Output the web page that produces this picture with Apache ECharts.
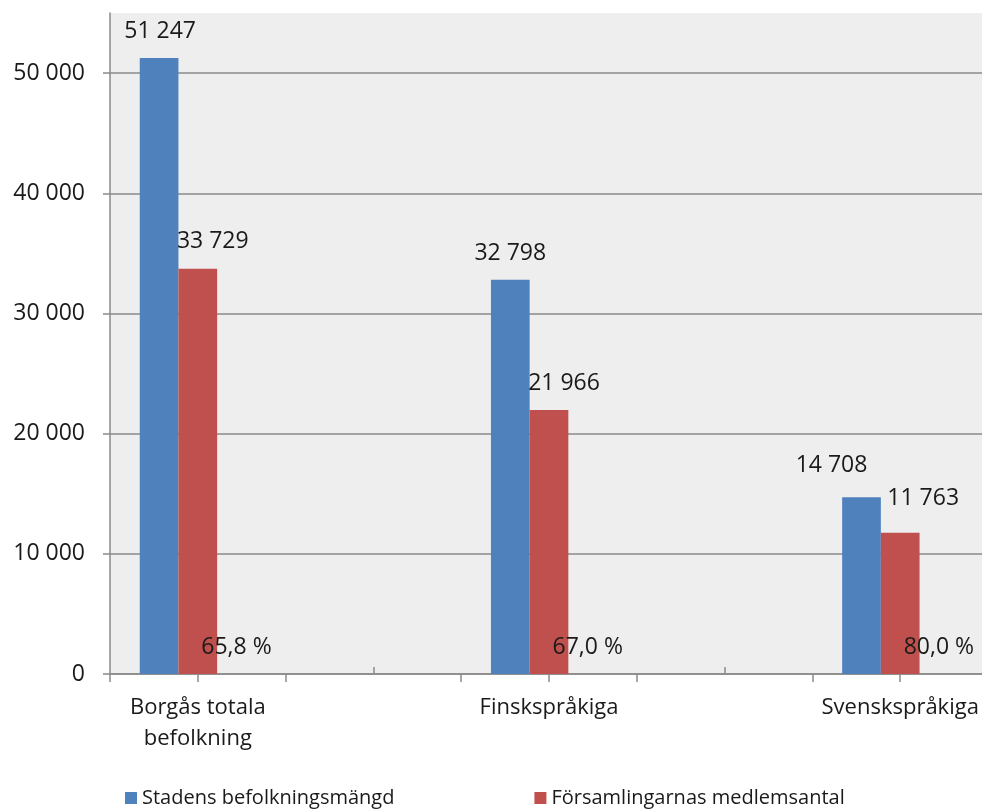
<!DOCTYPE html>
<html>
<head>
<meta charset="utf-8">
<script src="https://cdn.jsdelivr.net/npm/echarts@6/dist/echarts.min.js"></script>
<style>
  html, body { margin: 0; padding: 0; background: #fff; overflow: hidden; }
  #chart { width: 990px; height: 809px; }
</style>
</head>
<body>
<div id="chart"></div>
<script>
// kategorier (tomma platser ger samma avstånd som i originalet)
const categories = ['Borgås totala\nbefolkning', '', 'Finskspråkiga', '', 'Svenskspråkiga'];
const seriesNames = ['Stadens befolkningsmängd', 'Församlingarnas medlemsantal'];
const befolkning = [51247, null, 32798, null, 14708];
const medlemmar = [33729, null, 21966, null, 11763];
const andelar = ['65,8 %', '', '67,0 %', '', '80,0 %'];
const yTicks = [0, 10000, 20000, 30000, 40000, 50000];

// etiketternas förskjutning (flyttade för hand i originalet)
const blueOffsets = [[1, 0], null, [0, 0], null, [-30, -5]];
const redOffsets = [[15, -1], null, [15, 0], null, [23, -8]];

const FONT = 'Open Sans';
const TEXT = '#1a1a1a';
const GRID_GREY = '#8a8a8a';

const fmt = v => String(v).replace(/\B(?=(\d{3})+(?!\d))/g, ' ');

// diagrammet är lite bredare än fönstret, axeln fortsätter utanför bilden
const chart = echarts.init(document.getElementById('chart'), null, { renderer: 'canvas' });

const withOffsets = (values, offsets) => values.map((v, i) => {
  if (v == null) return '-';
  return { value: v, label: { offset: offsets[i] || [0, 0] } };
});

const labelBase = {
  show: true,
  position: 'top',
  distance: 15,
  fontFamily: FONT,
  fontSize: 23,
  color: TEXT
};

const tickAxis = (extra) => Object.assign({
  type: 'category',
  data: categories,
  position: 'bottom',
  axisLine: { show: false },
  axisLabel: { show: false },
  splitLine: { show: false }
}, extra);

const option = {
  animation: false,
  backgroundColor: '#ffffff',
  grid: {
    left: 110,
    right: 2,
    top: 13,
    bottom: 135,
    show: true,
    backgroundColor: '#eeeeee',
    borderWidth: 0
  },
  legend: {
    data: seriesNames,
    left: 120,
    top: 783,
    icon: 'rect',
    itemWidth: 12,
    itemHeight: 12,
    itemGap: 140,
    textStyle: { fontFamily: FONT, fontSize: 20, color: TEXT }
  },
  xAxis: [
    {
      type: 'category',
      data: categories,
      axisLine: { lineStyle: { color: GRID_GREY, width: 1.5 } },
      axisTick: { show: true, interval: 0, length: 8, lineStyle: { color: GRID_GREY, width: 1.5 } },
      axisLabel: {
        interval: 0,
        margin: 18,
        fontFamily: FONT,
        fontSize: 22,
        lineHeight: 31,
        color: TEXT
      }
    },
    tickAxis({
      axisTick: {
        show: true, alignWithLabel: true, length: 8,
        interval: i => i % 2 === 0,
        lineStyle: { color: GRID_GREY, width: 1.5 }
      }
    }),
    tickAxis({
      axisTick: {
        show: true, alignWithLabel: true, inside: true, length: 7,
        interval: i => i % 2 === 1,
        lineStyle: { color: GRID_GREY, width: 1.5 }
      }
    })
  ],
  yAxis: {
    type: 'value',
    min: yTicks[0],
    max: 55000,
    interval: yTicks[1] - yTicks[0],
    axisLine: { show: true, lineStyle: { color: GRID_GREY, width: 1.5 } },
    axisTick: { show: true, length: 7, customValues: yTicks, lineStyle: { color: GRID_GREY, width: 1.5 } },
    axisLabel: {
      margin: 25,
      fontFamily: FONT,
      fontSize: 23,
      color: TEXT,
      customValues: yTicks,
      formatter: v => fmt(v)
    },
    splitLine: {
      show: true,
      lineStyle: {
        color: yTicks.map(() => GRID_GREY).concat(['rgba(0,0,0,0)']),
        width: 1.5
      }
    }
  },
  series: [
    {
      name: seriesNames[0],
      type: 'bar',
      barWidth: 38.7,
      barGap: '0%',
      data: withOffsets(befolkning, blueOffsets),
      itemStyle: { color: '#4f81bd' },
      label: Object.assign({}, labelBase, { formatter: p => fmt(p.value) })
    },
    {
      name: seriesNames[1],
      type: 'bar',
      barWidth: 38.7,
      barGap: '0%',
      data: withOffsets(medlemmar, redOffsets),
      itemStyle: { color: '#c0504d' },
      label: Object.assign({}, labelBase, { formatter: p => fmt(p.value) })
    },
    {
      // osynlig serie som bär andelsetiketten
      name: 'andel',
      type: 'bar',
      barWidth: 38.7,
      barGap: '0%',
      data: andelar.map(a => (a ? 0 : '-')),
      itemStyle: { color: 'rgba(0,0,0,0)' },
      label: Object.assign({}, labelBase, { formatter: p => andelar[p.dataIndex] })
    }
  ]
};

chart.setOption(option);
</script>
</body>
</html>
